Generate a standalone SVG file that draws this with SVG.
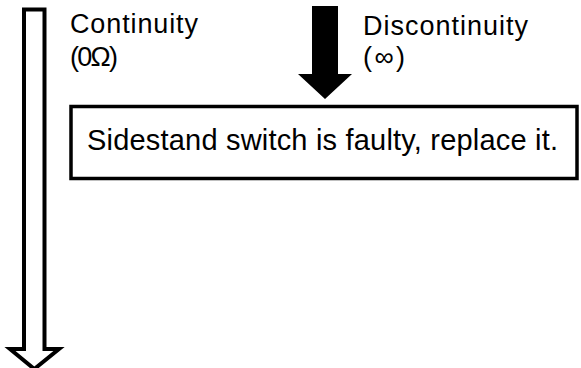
<svg xmlns="http://www.w3.org/2000/svg" width="581" height="368" viewBox="0 0 581 368">
<style>
text{font-family:"Liberation Sans",Arial,sans-serif;fill:#000}
.lbl{font-size:27px}
.box{font-size:29px}
</style>
<rect width="581" height="368" fill="#fff"/>
<g id="connectors">
<polygon id="arrow-continuity" points="24,9.5 44.5,9.5 44.5,349 59,349 34.3,369 10,349 24,349" fill="#fff" stroke="#000" stroke-width="4" stroke-linejoin="miter"/>
<polygon id="arrow-discontinuity" points="312,6 338,6 338,74 352,74 325,99 298,74 312,74" fill="#000"/>
</g>
<g id="label-continuity">
<text class="lbl" x="70" y="33" textLength="128" lengthAdjust="spacing">Continuity</text>
<text class="lbl" x="70" y="66" textLength="48" lengthAdjust="spacing">(0Ω)</text>
</g>
<g id="label-discontinuity">
<text class="lbl" x="363" y="35" textLength="165" lengthAdjust="spacing">Discontinuity</text>
<text class="lbl" x="363" y="66" textLength="42" lengthAdjust="spacing">(∞)</text>
</g>
<g id="node-result">
<rect x="71" y="106.5" width="506" height="72" fill="#fff" stroke="#000" stroke-width="3.5"/>
<text class="box" x="87" y="150" textLength="471" lengthAdjust="spacing">Sidestand switch is faulty, replace it.</text>
</g>
</svg>
